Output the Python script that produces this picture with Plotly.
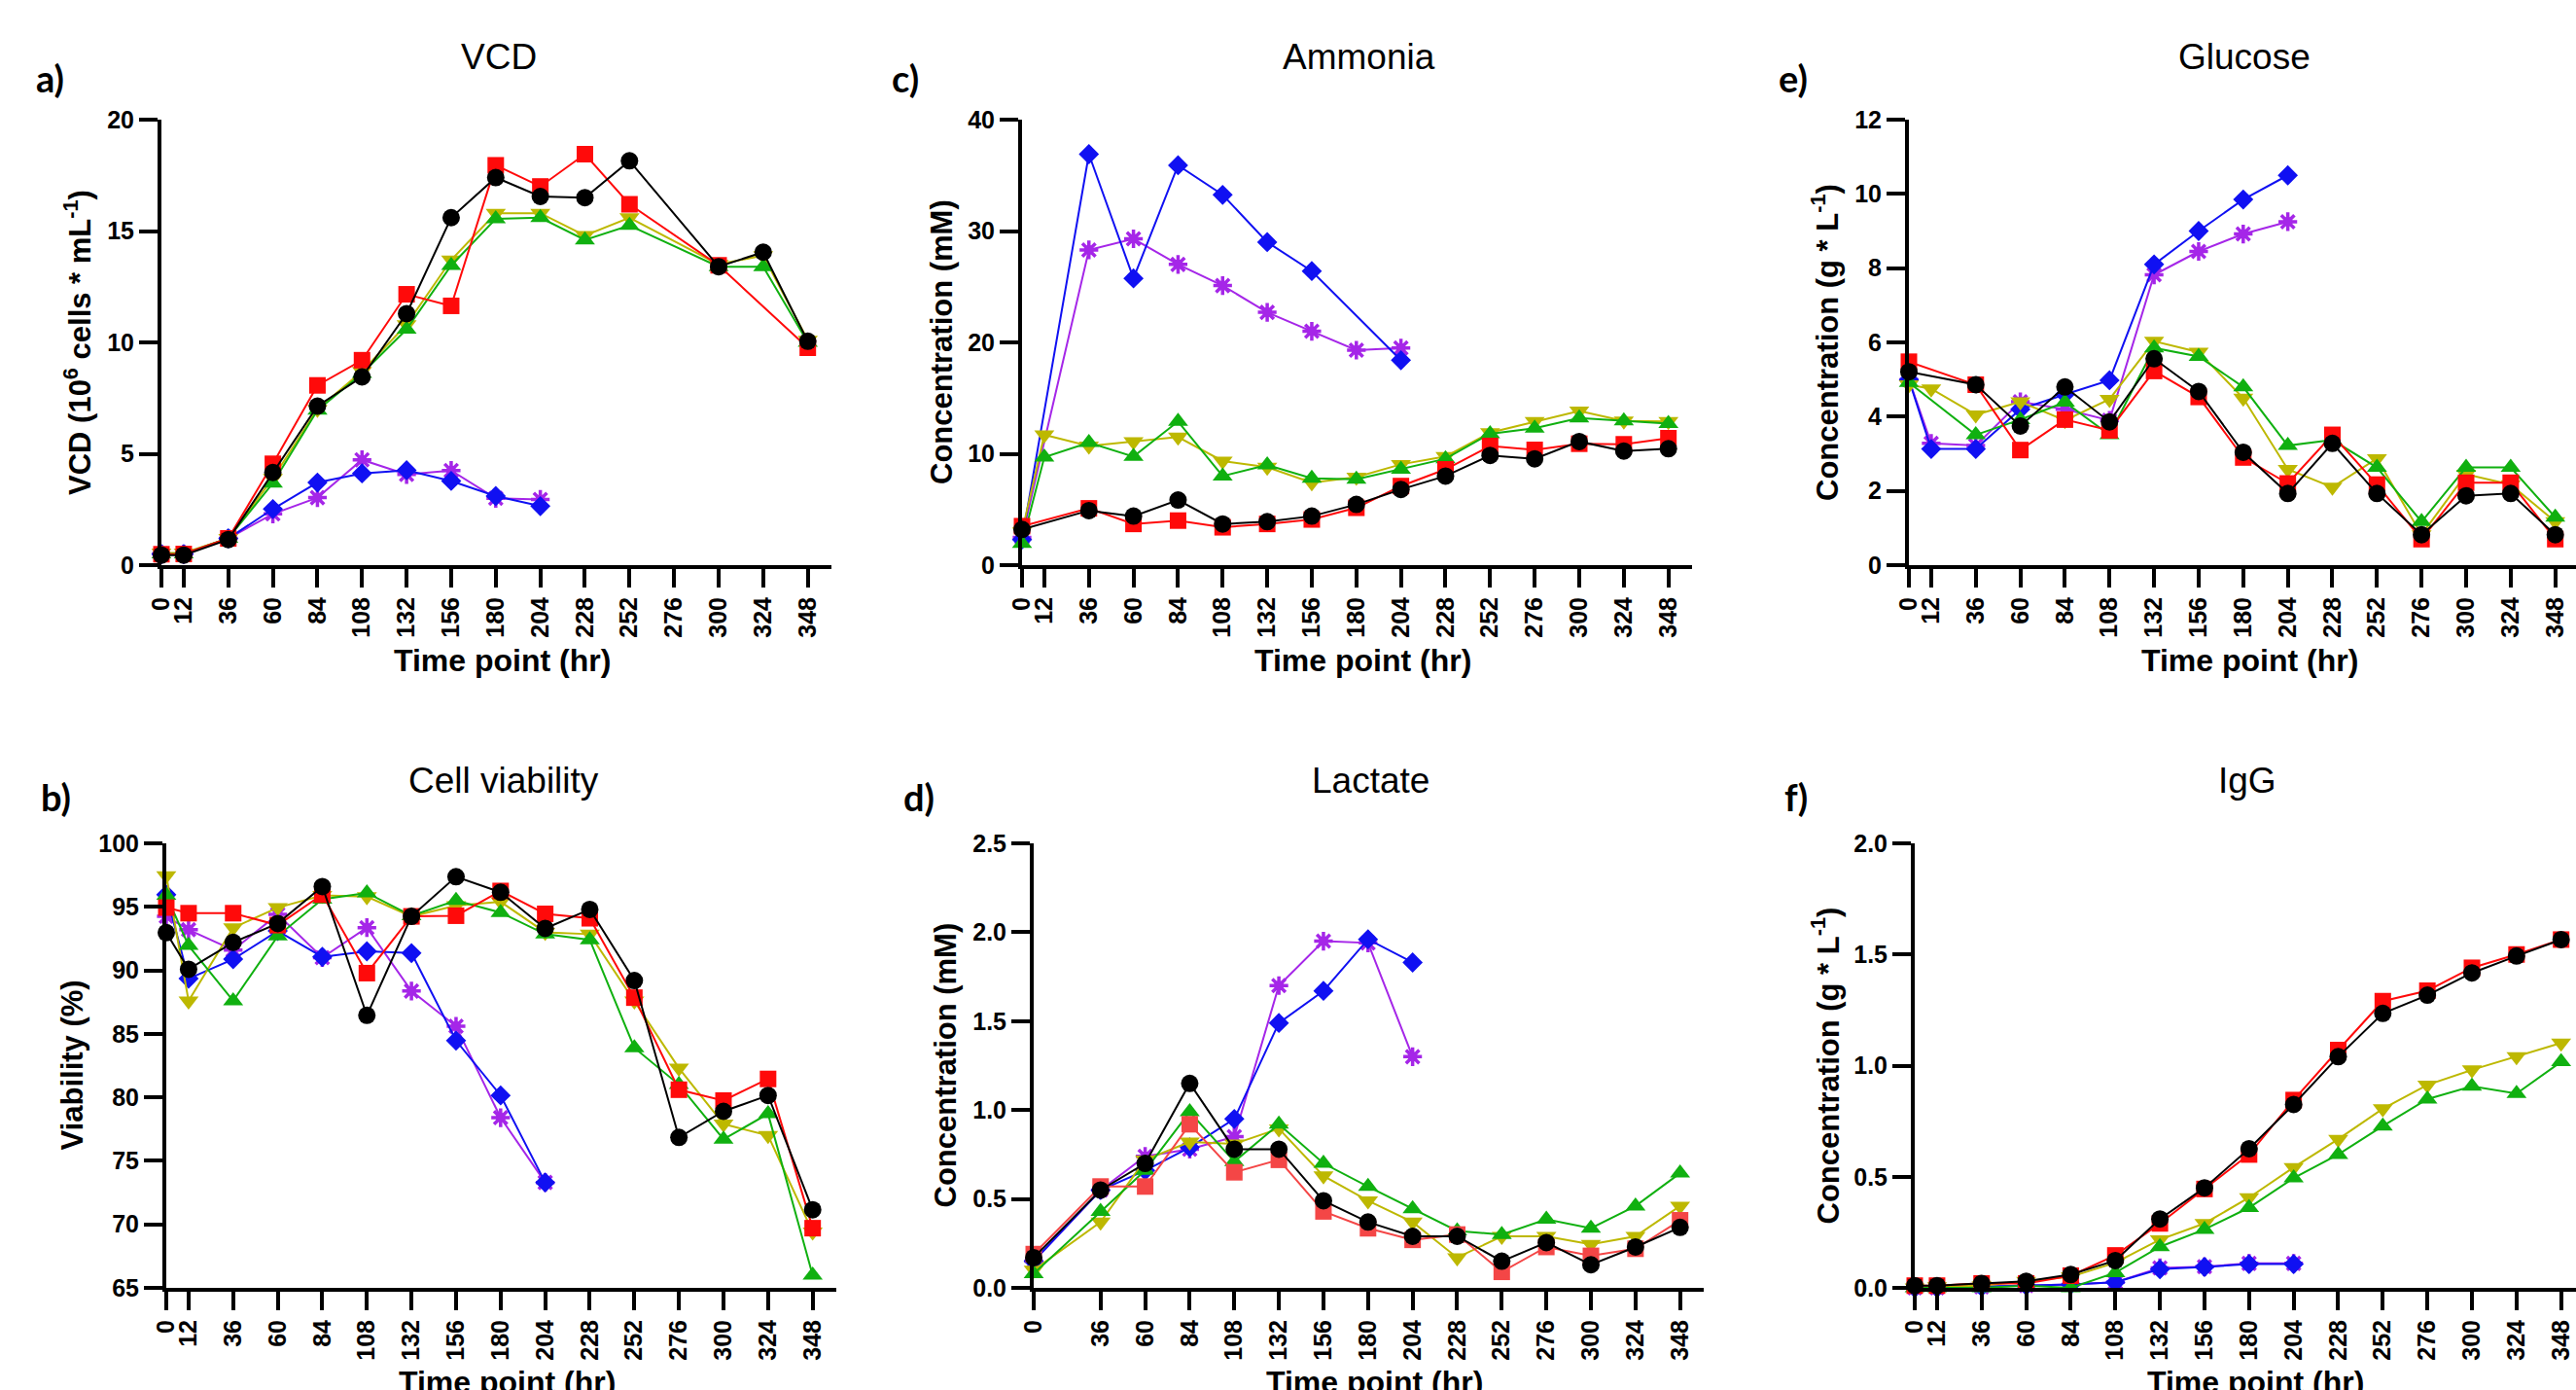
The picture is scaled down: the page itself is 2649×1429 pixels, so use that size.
import plotly.graph_objects as go

W, H = 2649, 1429

# ---------------- data ----------------
time_h = [0, 12, 36, 60, 84, 108, 132, 156, 180, 204, 228, 252, 276, 300, 324, 348]
x_tick_vals = [0, 12, 36, 60, 84, 108, 132, 156, 180, 204, 228, 252, 276, 300, 324, 348]
x_tick_vals_lactate = [0, 36, 60, 84, 108, 132, 156, 180, 204, 228, 252, 276, 300, 324, 348]

series_names = ["Purple", "Blue", "Yellow", "Green", "Red", "Black"]

# a) VCD (10^6 cells/mL)
vcd_purple = [0.5, 0.5, 1.2, 2.3, 3.03, 4.73, 4.07, 4.25, 3.0, 2.95, None, None, None, None, None, None]
vcd_blue = [0.5, 0.5, 1.2, 2.52, 3.71, 4.12, 4.26, 3.78, 3.1, 2.65, None, None, None, None, None, None]
vcd_yellow = [0.55, 0.55, 1.2, 3.9, 7.0, 8.7, 10.8, 13.7, 15.8, 15.8, 14.8, 15.6, None, 13.5, 13.9, 10.1]
vcd_green = [0.5, 0.5, 1.2, 3.68, 6.95, 8.6, 10.59, 13.45, 15.55, 15.6, 14.6, 15.25, None, 13.4, 13.4, 10.0]
vcd_red = [0.49, 0.5, 1.2, 4.55, 8.07, 9.2, 12.16, 11.64, 17.95, 17.0, 18.45, 16.2, None, 13.46, None, 9.76]
vcd_black = [0.45, 0.45, 1.15, 4.16, 7.14, 8.45, 11.29, 15.6, 17.4, 16.55, 16.5, 18.15, None, 13.4, 14.05, 10.05]

# b) Viability (%)
via_purple = [94.25, 93.2, 91.6, 94.4, 91.0, 93.36, 88.37, 85.6, 78.4, 73.3, None, None, None, None, None, None]
via_blue = [95.96, 89.35, 90.88, 93.1, 91.06, 91.5, 91.36, 84.47, 80.15, 73.3, None, None, None, None, None, None]
via_yellow = [97.45, 87.6, 93.35, 94.94, 95.9, 95.8, 94.25, 95.1, 95.4, 93.0, 92.85, 87.6, 82.3, 77.9, 77.0, 69.4]
via_green = [95.9, 91.95, 87.6, 92.7, 95.6, 96.1, 94.3, 95.5, 94.55, 92.85, 92.4, 83.9, 81.0, 76.7, 78.7, 66.0]
via_red = [94.94, 94.5, 94.5, 93.56, 95.96, 89.78, 94.25, 94.3, 96.25, 94.45, 94.1, 87.85, 80.6, 79.75, 81.45, 69.7]
via_black = [92.97, 90.09, 92.2, 93.69, 96.6, 86.46, 94.25, 97.37, 96.15, 93.3, 94.8, 89.2, 76.85, 78.9, 80.15, 71.15]

# c) Ammonia (mM)
amm_purple = [2.5, None, 28.3, 29.3, 27.0, 25.1, 22.7, 21.0, 19.3, 19.5, None, None, None, None, None, None]
amm_blue = [2.3, None, 36.9, 25.75, 35.9, 33.25, 29.0, 26.4, None, 18.4, None, None, None, None, None, None]
amm_yellow = [3.0, 11.7, 10.7, 11.1, 11.5, 9.35, 8.8, 7.4, 7.9, 9.05, 9.75, 11.9, 12.9, 13.85, 12.95, 12.9]
amm_green = [1.95, 9.7, 11.0, 9.75, 12.9, 8.0, 9.0, 7.8, 7.7, 8.6, 9.55, 11.8, 12.3, 13.2, 12.95, 12.7]
amm_red = [3.5, None, 5.1, 3.7, 4.0, 3.4, 3.7, 4.1, 5.15, 7.1, 8.6, 10.7, 10.35, 10.9, 10.85, 11.4]
amm_black = [3.2, None, 4.9, 4.4, 5.85, 3.7, 3.9, 4.4, 5.45, 6.8, 8.0, 9.85, 9.55, 11.1, 10.25, 10.45]

# d) Lactate (mM)
lac_purple = [0.15, None, 0.55, 0.74, 0.78, 0.85, 1.70, 1.95, 1.94, 1.30, None, None, None, None, None, None]
lac_blue = [0.15, None, 0.55, 0.66, 0.79, 0.95, 1.49, 1.67, 1.96, 1.83, None, None, None, None, None, None]
lac_yellow = [0.10, None, 0.37, 0.72, 0.82, 0.81, 0.895, 0.63, 0.49, 0.37, 0.17, 0.29, 0.29, 0.245, 0.29, 0.46]
lac_green = [0.08, None, 0.43, 0.66, 0.99, 0.71, 0.92, 0.70, 0.57, 0.445, 0.32, 0.30, 0.385, 0.335, 0.46, 0.645]
lac_red = [0.19, None, 0.57, 0.57, 0.92, 0.65, 0.72, 0.43, 0.335, 0.27, 0.30, 0.09, 0.23, 0.18, 0.22, 0.38]
lac_black = [0.17, None, 0.55, 0.70, 1.15, 0.78, 0.78, 0.49, 0.37, 0.29, 0.29, 0.15, 0.255, 0.13, 0.23, 0.34]

# e) Glucose (g/L)
glc_purple = [5.0, 3.28, 3.22, 4.4, 4.2, 3.9, 7.82, 8.45, 8.92, 9.25, None, None, None, None, None, None]
glc_blue = [5.0, 3.13, 3.13, 4.2, 4.6, 4.98, 8.1, 9.0, 9.85, 10.5, None, None, None, None, None, None]
glc_yellow = [4.86, 4.75, 4.05, 4.4, 3.9, 4.47, 6.03, 5.74, 4.5, 2.58, 2.1, 2.87, 0.82, 2.45, 2.17, 1.17]
glc_green = [4.92, None, 3.51, 3.92, 4.39, 3.51, 5.85, 5.62, 4.8, 3.22, 3.37, 2.63, 1.17, 2.63, 2.63, 1.29]
glc_red = [5.48, None, 4.86, 3.1, 3.92, 3.63, 5.23, 4.53, 2.9, 2.2, 3.51, 2.17, 0.7, 2.22, 2.22, 0.7]
glc_black = [5.21, None, 4.86, 3.75, 4.8, 3.86, 5.56, 4.68, 3.04, 1.93, 3.28, 1.93, 0.82, 1.87, 1.93, 0.82]

# f) IgG (g/L)
igg_purple = [0.0, 0.0, 0.005, 0.01, 0.015, 0.025, 0.09, 0.095, 0.11, 0.11, None, None, None, None, None, None]
igg_blue = [0.0, 0.0, 0.005, 0.01, 0.015, 0.025, 0.084, 0.094, 0.107, 0.107, None, None, None, None, None, None]
igg_yellow = [0.0, 0.005, 0.01, 0.03, 0.05, 0.113, 0.217, 0.29, 0.406, 0.542, 0.669, 0.806, 0.913, 0.981, 1.04, 1.102]
igg_green = [0.0, 0.0, 0.0, 0.01, 0.0, 0.068, 0.185, 0.263, 0.361, 0.494, 0.60, 0.728, 0.849, 0.907, 0.874, 1.017]
igg_red = [0.01, 0.01, 0.02, 0.02, 0.055, 0.146, 0.29, 0.445, 0.60, 0.845, 1.07, 1.29, 1.337, 1.44, 1.50, 1.567]
igg_black = [0.01, 0.01, 0.02, 0.03, 0.06, 0.123, 0.31, 0.45, 0.626, 0.825, 1.04, 1.235, 1.317, 1.417, 1.493, 1.567]

panel_titles = ["VCD", "Cell viability", "Ammonia", "Lactate", "Glucose", "IgG"]
panel_letters = ["a)", "b)", "c)", "d)", "e)", "f)"]
y_titles = ["VCD (10<sup>6</sup> cells * mL<sup>-1</sup>)", "Viability (%)",
            "Concentration (mM)", "Concentration (mM)",
            "Concentration (g * L<sup>-1</sup>)", "Concentration (g * L<sup>-1</sup>)"]
x_title = "Time point (hr)"
y_ranges = [(0, 20, 5), (65, 100, 5), (0, 40, 10), (0, 2.5, 0.5), (0, 12, 2), (0, 2.0, 0.5)]

# ---------------- styles ----------------
colors = {"Purple": "#A526E8", "Blue": "#1010F2", "Yellow": "#BDB800",
          "Green": "#10B010", "Red": "#FF0A0A", "Black": "#000000"}
symbols = {"Purple": "asterisk", "Blue": "diamond", "Yellow": "triangle-down",
           "Green": "triangle-up", "Red": "square", "Black": "circle"}
sizes = {"Purple": 16, "Blue": 16, "Yellow": 18, "Green": 18, "Red": 17, "Black": 18}

panel_data = [
    [vcd_purple, vcd_blue, vcd_yellow, vcd_green, vcd_red, vcd_black],
    [via_purple, via_blue, via_yellow, via_green, via_red, via_black],
    [amm_purple, amm_blue, amm_yellow, amm_green, amm_red, amm_black],
    [lac_purple, lac_blue, lac_yellow, lac_green, lac_red, lac_black],
    [glc_purple, glc_blue, glc_yellow, glc_green, glc_red, glc_black],
    [igg_purple, igg_blue, igg_yellow, igg_green, igg_red, igg_black],
]

# plot-area boxes in pixels: left, right, top, bottom
boxes = [
    (166, 855, 123, 581),
    (171, 860, 867, 1324),
    (1051, 1740, 123, 581),
    (1063, 1752, 867, 1324),
    (1963, 2649, 123, 581),
    (1969, 2649, 867, 1324),
]
PX_PER_HR = 1.91

fig = go.Figure()
layout = dict(width=W, height=H, margin=dict(l=0, r=0, t=0, b=0, pad=0),
              paper_bgcolor="white", plot_bgcolor="white", showlegend=False)

tickfont = dict(family="Liberation Sans, Arial, sans-serif", size=25, color="black", weight="bold")
axis_common = dict(showline=True, linewidth=4, linecolor="black", ticks="outside",
                   ticklen=19, tickwidth=4, tickcolor="black", showgrid=False,
                   zeroline=False, tickfont=tickfont, automargin=False)

annotations = []

def fx(px):
    return px / W

def fy(py):
    return 1 - py / H

for i in range(6):
    n = "" if i == 0 else str(i + 1)
    left, right, top, bottom = boxes[i]
    xr_end = (right - left) / PX_PER_HR
    tv = x_tick_vals_lactate if i == 3 else x_tick_vals
    layout["xaxis" + n] = dict(axis_common, domain=[fx(left), fx(right)],
                               range=[0, xr_end], tickmode="array", tickvals=tv,
                               ticktext=[str(v) for v in tv], tickangle=-90,
                               anchor="y" + n)
    y0, y1, dt = y_ranges[i]
    layout["yaxis" + n] = dict(axis_common, domain=[fy(bottom), fy(top)],
                               range=[y0, y1], dtick=dt, tick0=y0,
                               tickformat=".1f" if i in (3, 5) else "d",
                               anchor="x" + n)
    for name, vals in zip(series_names, panel_data[i]):
        col = colors[name]
        if i == 3 and name == "Red":
            col = "#F44646"
        if name == "Purple":
            # solid core under the asterisk so the marker reads as a splat
            fig.add_trace(go.Scatter(
                x=time_h, y=vals, name=name, mode="lines+markers",
                connectgaps=True, cliponaxis=False,
                line=dict(color=col, width=2),
                marker=dict(symbol="circle", size=10, color=col, line=dict(width=0)),
                xaxis="x" + n, yaxis="y" + n, hoverinfo="skip"))
            fig.add_trace(go.Scatter(
                x=time_h, y=vals, name=name, mode="markers",
                cliponaxis=False,
                marker=dict(symbol="asterisk", size=sizes[name], color=col,
                            line=dict(width=3.5, color=col)),
                xaxis="x" + n, yaxis="y" + n))
            continue
        marker = dict(symbol=symbols[name], size=sizes[name], color=col,
                      line=dict(width=0, color=col))
        fig.add_trace(go.Scatter(
            x=time_h, y=vals, name=name, mode="lines+markers",
            connectgaps=True, cliponaxis=False,
            line=dict(color=col, width=2), marker=marker,
            xaxis="x" + n, yaxis="y" + n))

    cx = (left + right) / 2
    rowtop = 59 if top < 500 else 802
    letter_y = 80 if top < 500 else 819
    annotations.append(dict(text=panel_titles[i], x=fx(cx + 2), y=fy(rowtop), xref="paper", yref="paper",
                            showarrow=False, xanchor="center", yanchor="middle",
                            font=dict(family="Liberation Sans, Arial", size=37, color="black")))
    annotations.append(dict(text=panel_letters[i], x=fx(left - 131 if i < 2 else left - 136), y=fy(letter_y),
                            xref="paper", yref="paper", showarrow=False,
                            xanchor="left", yanchor="middle",
                            font=dict(family="Lato, Liberation Sans", size=38, color="black", weight="bold")))
    ytx = {0: 80, 1: 74, 2: 968, 3: 972, 4: 1877, 5: 1877}[i]
    annotations.append(dict(text=y_titles[i], x=fx(ytx), y=fy((top + bottom) / 2),
                            xref="paper", yref="paper", showarrow=False, textangle=-90,
                            xanchor="center", yanchor="middle",
                            font=dict(family="Liberation Sans, Arial", size=31, color="black", weight="bold")))
    xty = 679 if top < 500 else 1421
    annotations.append(dict(text=x_title, x=fx(left + 350), y=fy(xty), xref="paper", yref="paper",
                            showarrow=False, xanchor="center", yanchor="middle",
                            font=dict(family="Liberation Sans, Arial", size=32, color="black", weight="bold")))

layout["annotations"] = annotations
fig.update_layout(**layout)
fig.write_html("out.html",
               config={"displayModeBar": False},
               post_script="document.body.style.margin='0';document.body.style.overflow='hidden';")
